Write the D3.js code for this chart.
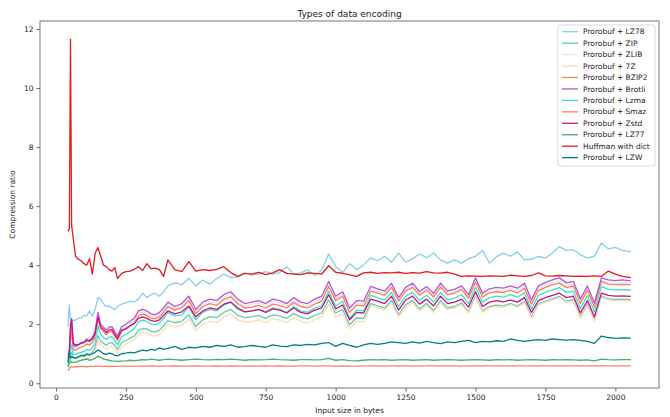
<!DOCTYPE html>
<html>
<head>
<meta charset="utf-8">
<script src="https://cdn.jsdelivr.net/npm/d3@7"></script>
<style>
  body { margin: 0; background: #fff; }
  #chart-area { width: 670px; height: 417px; }
  text { font-family: "DejaVu Sans", sans-serif; fill: #222; }
</style>
</head>
<body>
<div id="chart-area"></div>
<script>
// input sizes (bytes), shared by every series
const inputSizes = [43, 48, 52, 56, 62, 70, 80, 90, 100, 110,
    120, 130, 140, 150, 160, 170, 180, 190, 200, 210,
    220, 235, 250, 265, 280, 295, 310, 325, 340, 355, 370, 385,
    400, 425, 450, 475, 500, 525, 550, 575, 600, 625,
    650, 675, 700, 725, 750, 775, 800, 825, 850, 875,
    900, 925, 950, 975, 1000, 1025, 1050, 1075, 1100, 1125,
    1150, 1175, 1200, 1225, 1250, 1275, 1300, 1325, 1350, 1375,
    1400, 1425, 1450, 1475, 1500, 1525, 1550, 1575, 1600, 1625,
    1650, 1675, 1700, 1725, 1750, 1775, 1800, 1825, 1850, 1875,
    1900, 1925, 1950, 1975, 2000, 2025, 2055];

const lz78 = [1.92, 2.66, 2.15, 2.15, 2.12, 2.15, 2.2, 2.22, 2.3, 2.28,
    2.45, 2.28, 2.5, 2.9, 2.85, 2.7, 2.6, 2.62, 2.55, 2.5,
    2.6, 2.68, 2.72, 2.78, 2.75, 2.85, 3.05, 2.9, 3.0, 3.05, 2.95, 3.1,
    3.3, 3.4, 3.34, 3.56, 3.3, 3.5, 3.36, 3.55, 3.7, 3.58,
    3.6, 3.73, 3.67, 3.7, 3.78, 3.7, 3.75, 3.95, 3.7, 3.74,
    3.84, 3.65, 3.84, 4.38, 3.95, 3.75, 4.05, 3.85, 4.0, 4.25,
    4.15, 4.3, 4.1, 4.41, 4.1, 4.22, 4.38, 4.25, 4.41, 4.18,
    4.07, 4.18, 4.07, 4.22, 4.3, 4.5, 4.07, 4.29, 4.41, 4.3,
    4.45, 4.18, 4.2, 4.3, 4.24, 4.41, 4.63, 4.5, 4.52, 4.35,
    4.25, 4.3, 4.75, 4.55, 4.6, 4.5, 4.45];

const zip = [0.6, 0.7, 0.95, 1.05, 0.85, 0.84, 0.88, 0.92, 0.95, 1.0,
    0.98, 1.05, 1.2, 1.62, 1.42, 1.35, 1.28, 1.36, 1.38, 1.28,
    1.15, 1.38, 1.45, 1.52, 1.6, 1.8, 1.85, 1.84, 1.76, 1.74, 1.8, 1.94,
    2.12, 2.05, 2.1, 2.32, 1.92, 2.15, 2.26, 2.22, 2.4, 2.5,
    2.3, 2.22, 2.25, 2.3, 2.2, 2.32, 2.28, 2.2, 2.36, 2.24,
    2.18, 2.3, 2.38, 2.82, 2.38, 2.5, 1.98, 2.22, 2.2, 2.7,
    2.62, 2.55, 2.8, 2.32, 2.66, 2.8, 2.52, 2.7, 2.46, 2.8,
    2.55, 2.6, 2.72, 2.42, 2.95, 2.45, 2.6, 2.65, 2.62, 2.7,
    2.62, 2.76, 2.25, 2.68, 2.78, 2.86, 2.94, 2.78, 2.82, 2.25,
    2.68, 2.15, 2.95, 2.86, 2.84, 2.85, 2.83];

const zlib = [0.9, 1.05, 1.6, 2.05, 1.25, 1.2, 1.25, 1.32, 1.35, 1.44,
    1.4, 1.48, 1.68, 2.3, 1.93, 1.83, 1.73, 1.83, 1.85, 1.68,
    1.53, 1.85, 1.92, 2.02, 2.12, 2.37, 2.42, 2.37, 2.27, 2.24, 2.32, 2.47,
    2.67, 2.52, 2.62, 2.87, 2.42, 2.67, 2.77, 2.72, 2.92, 3.02,
    2.77, 2.62, 2.67, 2.72, 2.62, 2.77, 2.72, 2.62, 2.82, 2.67,
    2.62, 2.77, 2.87, 3.37, 2.87, 3.02, 2.47, 2.72, 2.7, 3.2,
    3.12, 3.04, 3.31, 2.82, 3.17, 3.31, 3.02, 3.2, 2.97, 3.31,
    3.04, 3.1, 3.22, 2.92, 3.49, 2.97, 3.12, 3.17, 3.14, 3.22,
    3.14, 3.31, 2.75, 3.22, 3.34, 3.42, 3.49, 3.32, 3.37, 2.77,
    3.22, 2.64, 3.49, 3.42, 3.4, 3.42, 3.39];

const sevenZ = [0.45, 0.55, 0.78, 0.88, 0.72, 0.7, 0.74, 0.78, 0.8, 0.85,
    0.84, 0.9, 1.05, 1.45, 1.28, 1.22, 1.15, 1.22, 1.25, 1.15,
    1.02, 1.25, 1.32, 1.4, 1.48, 1.68, 1.72, 1.7, 1.62, 1.6, 1.66, 1.8,
    1.98, 1.9, 1.95, 2.18, 1.78, 2.0, 2.1, 2.06, 2.25, 2.35,
    2.15, 2.08, 2.1, 2.15, 2.05, 2.18, 2.14, 2.05, 2.22, 2.1,
    2.04, 2.16, 2.24, 2.68, 2.24, 2.36, 1.85, 2.1, 2.08, 2.62,
    2.55, 2.48, 2.72, 2.25, 2.58, 2.72, 2.45, 2.62, 2.4, 2.72,
    2.5, 2.55, 2.66, 2.38, 2.9, 2.4, 2.56, 2.6, 2.58, 2.66,
    2.58, 2.72, 2.2, 2.65, 2.75, 2.82, 2.9, 2.74, 2.78, 2.2,
    2.64, 2.1, 2.92, 2.82, 2.8, 2.81, 2.8];

const bzip2 = [0.75, 0.95, 1.45, 1.8, 1.15, 1.12, 1.18, 1.22, 1.25, 1.33,
    1.3, 1.38, 1.58, 2.2, 1.85, 1.75, 1.65, 1.74, 1.76, 1.6,
    1.45, 1.76, 1.84, 1.94, 2.04, 2.28, 2.34, 2.3, 2.2, 2.18, 2.25, 2.4,
    2.6, 2.48, 2.56, 2.8, 2.36, 2.6, 2.7, 2.64, 2.84, 2.93,
    2.7, 2.55, 2.58, 2.64, 2.55, 2.68, 2.64, 2.55, 2.74, 2.6,
    2.55, 2.68, 2.78, 3.28, 2.8, 2.95, 2.4, 2.65, 2.62, 3.12,
    3.05, 2.98, 3.25, 2.78, 3.12, 3.25, 2.98, 3.15, 2.92, 3.26,
    3.0, 3.05, 3.18, 2.88, 3.42, 2.92, 3.06, 3.1, 3.08, 3.15,
    3.06, 3.22, 2.68, 3.14, 3.25, 3.34, 3.4, 3.24, 3.3, 2.7,
    3.15, 2.58, 3.45, 3.36, 3.34, 3.35, 3.33];

const brotli = [0.95, 1.15, 1.8, 2.2, 1.3, 1.25, 1.3, 1.38, 1.4, 1.5,
    1.45, 1.55, 1.75, 2.4, 2.0, 1.9, 1.8, 1.9, 1.92, 1.75,
    1.6, 1.92, 2.0, 2.1, 2.2, 2.45, 2.5, 2.45, 2.35, 2.32, 2.4, 2.55,
    2.75, 2.6, 2.7, 2.95, 2.5, 2.75, 2.85, 2.8, 3.0, 3.1,
    2.85, 2.7, 2.75, 2.8, 2.7, 2.85, 2.8, 2.7, 2.9, 2.75,
    2.7, 2.85, 2.95, 3.45, 2.95, 3.1, 2.55, 2.8, 2.78, 3.28,
    3.2, 3.12, 3.39, 2.9, 3.25, 3.39, 3.1, 3.28, 3.05, 3.39,
    3.12, 3.18, 3.3, 3.0, 3.57, 3.05, 3.2, 3.25, 3.22, 3.3,
    3.22, 3.39, 2.83, 3.3, 3.42, 3.5, 3.57, 3.4, 3.45, 2.85,
    3.3, 2.72, 3.57, 3.5, 3.48, 3.5, 3.47];

const lzma = [0.65, 0.8, 1.1, 1.3, 1.0, 0.98, 1.02, 1.05, 1.08, 1.15,
    1.12, 1.2, 1.38, 1.95, 1.65, 1.55, 1.48, 1.56, 1.58, 1.45,
    1.3, 1.58, 1.66, 1.75, 1.85, 2.08, 2.14, 2.1, 2.0, 1.98, 2.05, 2.2,
    2.4, 2.28, 2.32, 2.58, 2.15, 2.4, 2.5, 2.45, 2.65, 2.75,
    2.5, 2.42, 2.45, 2.5, 2.42, 2.55, 2.5, 2.4, 2.6, 2.45,
    2.4, 2.55, 2.62, 3.12, 2.62, 2.78, 2.2, 2.48, 2.45, 2.98,
    2.9, 2.82, 3.08, 2.6, 2.95, 3.08, 2.8, 2.98, 2.75, 3.08,
    2.82, 2.88, 3.0, 2.7, 3.25, 2.75, 2.9, 2.95, 2.92, 3.0,
    2.92, 3.06, 2.52, 2.98, 3.08, 3.16, 3.24, 3.08, 3.12, 2.52,
    2.98, 2.42, 3.28, 3.18, 3.16, 3.17, 3.16];

const smaz = [0.42, 0.5, 0.55, 0.56, 0.55, 0.56, 0.56, 0.57, 0.57, 0.56,
    0.57, 0.57, 0.58, 0.58, 0.57, 0.57, 0.58, 0.57, 0.58, 0.57,
    0.57, 0.58, 0.58, 0.58, 0.57, 0.58, 0.58, 0.58, 0.59, 0.58, 0.58, 0.58,
    0.58, 0.59, 0.58, 0.58, 0.59, 0.58, 0.58, 0.59, 0.58, 0.59,
    0.58, 0.58, 0.59, 0.58, 0.59, 0.58, 0.59, 0.58, 0.58, 0.59,
    0.59, 0.58, 0.59, 0.59, 0.58, 0.59, 0.58, 0.58, 0.59, 0.59,
    0.59, 0.58, 0.59, 0.59, 0.59, 0.58, 0.59, 0.59, 0.59, 0.59,
    0.59, 0.59, 0.58, 0.59, 0.59, 0.59, 0.59, 0.59, 0.59, 0.59,
    0.59, 0.59, 0.59, 0.59, 0.59, 0.59, 0.59, 0.59, 0.59, 0.59,
    0.59, 0.59, 0.59, 0.59, 0.59, 0.59, 0.59];

const zstd = [0.85, 1.0, 2.0, 2.15, 1.35, 1.3, 1.32, 1.35, 1.38, 1.45,
    1.42, 1.5, 1.68, 2.25, 1.9, 1.82, 1.72, 1.8, 1.82, 1.65,
    1.52, 1.8, 1.85, 1.95, 2.02, 2.2, 2.25, 2.2, 2.12, 2.1, 2.15, 2.3,
    2.45, 2.35, 2.42, 2.62, 2.25, 2.45, 2.55, 2.5, 2.68, 2.75,
    2.55, 2.42, 2.45, 2.5, 2.4, 2.52, 2.48, 2.38, 2.55, 2.4,
    2.35, 2.48, 2.55, 3.0, 2.52, 2.65, 2.15, 2.4, 2.38, 2.85,
    2.78, 2.7, 2.95, 2.48, 2.82, 2.95, 2.68, 2.85, 2.62, 2.95,
    2.7, 2.75, 2.85, 2.58, 3.1, 2.6, 2.75, 2.8, 2.76, 2.82,
    2.75, 2.9, 2.4, 2.8, 2.9, 2.98, 3.05, 2.9, 2.95, 2.38,
    2.8, 2.25, 3.05, 2.98, 2.95, 2.96, 2.94];

const lz77 = [0.55, 0.7, 0.75, 0.72, 0.7, 0.72, 0.75, 0.78, 0.8, 0.82,
    0.78, 0.8, 0.85, 0.92, 0.88, 0.82, 0.8, 0.78, 0.76, 0.75,
    0.74, 0.75, 0.76, 0.78, 0.77, 0.78, 0.8, 0.79, 0.82, 0.8, 0.78, 0.8,
    0.82, 0.8, 0.78, 0.8, 0.82, 0.8, 0.79, 0.81, 0.8, 0.82,
    0.8, 0.78, 0.8, 0.79, 0.8, 0.82, 0.8, 0.79, 0.78, 0.8,
    0.8, 0.79, 0.8, 0.84, 0.78, 0.8, 0.77, 0.76, 0.78, 0.8,
    0.79, 0.8, 0.78, 0.79, 0.8, 0.78, 0.79, 0.8, 0.78, 0.79,
    0.8, 0.79, 0.78, 0.79, 0.8, 0.79, 0.78, 0.8, 0.79, 0.8,
    0.78, 0.79, 0.8, 0.79, 0.78, 0.8, 0.79, 0.8, 0.79, 0.78,
    0.79, 0.76, 0.82, 0.8, 0.79, 0.8, 0.8];

const huffman = [5.15, 5.25, 11.65, 5.35, 4.9, 4.3, 4.2, 4.15, 4.05, 4.0,
    4.22, 3.7, 4.4, 4.6, 4.3, 4.0, 3.95, 3.85, 3.8, 3.92,
    3.55, 3.72, 3.78, 3.8, 3.86, 3.95, 3.82, 4.05, 3.88, 3.9, 3.85, 3.62,
    4.18, 3.85, 3.78, 4.12, 3.8, 3.85, 3.82, 3.86, 3.95, 3.75,
    3.62, 3.72, 3.7, 3.76, 3.68, 3.74, 3.85, 3.72, 3.7, 3.68,
    3.74, 3.72, 3.7, 3.98, 3.76, 3.72, 3.67, 3.62, 3.74, 3.76,
    3.72, 3.75, 3.74, 3.76, 3.72, 3.75, 3.73, 3.78, 3.74, 3.73,
    3.76, 3.7, 3.62, 3.64, 3.63, 3.62, 3.64, 3.63, 3.62, 3.66,
    3.64, 3.62, 3.65, 3.74, 3.64, 3.63, 3.65, 3.64, 3.62, 3.63,
    3.62, 3.64, 3.62, 3.8, 3.7, 3.62, 3.58];

const lzw = [0.7, 1.05, 0.85, 0.9, 0.88, 0.85, 0.9, 0.95, 0.92, 0.98,
    0.95, 1.0, 1.05, 1.12, 1.08, 1.0, 0.98, 1.02, 1.0, 0.95,
    0.93, 1.0, 1.02, 1.05, 1.03, 1.08, 1.12, 1.1, 1.15, 1.12, 1.2, 1.15,
    1.18, 1.25, 1.15, 1.22, 1.2, 1.25, 1.22, 1.28, 1.25, 1.3,
    1.22, 1.24, 1.28, 1.25, 1.22, 1.3, 1.26, 1.24, 1.3, 1.28,
    1.32, 1.3, 1.35, 1.38, 1.25, 1.35, 1.28, 1.22, 1.3, 1.35,
    1.32, 1.35, 1.4, 1.38, 1.35, 1.4, 1.36, 1.42, 1.38, 1.34,
    1.4, 1.38, 1.42, 1.45, 1.38, 1.42, 1.4, 1.44, 1.42, 1.5,
    1.45, 1.42, 1.45, 1.48, 1.45, 1.5, 1.48, 1.46, 1.48, 1.45,
    1.42, 1.35, 1.6, 1.55, 1.52, 1.54, 1.53];

const seriesNames = ["Prorobuf + LZ78", "Prorobuf + ZIP", "Prorobuf + ZLIB", "Prorobuf + 7Z",
    "Prorobuf + BZIP2", "Prorobuf + Brotli", "Prorobuf + Lzma", "Prorobuf + Smaz",
    "Prorobuf + Zstd", "Prorobuf + LZ77", "Huffman with dict", "Prorobuf + LZW"];
const seriesValues = [lz78, zip, zlib, sevenZ, bzip2, brotli, lzma, smaz, zstd, lz77, huffman, lzw];
const seriesColors = ["skyblue", "mediumaquamarine", "lavender", "peachpuff",
    "coral", "mediumorchid", "turquoise", "salmon",
    "mediumvioletred", "mediumseagreen", "#e41a1c", "teal"];

const xTicks = [0, 250, 500, 750, 1000, 1250, 1500, 1750, 2000];
const yTicks = [0, 2, 4, 6, 8, 10, 12];

class LineVis {
    constructor(parentElement) {
        this.parentElement = parentElement;
        this.series = seriesNames.map((name, i) => ({
            name: name,
            color: seriesColors[i],
            points: inputSizes.map((x, j) => ({ x: x, y: seriesValues[i][j] }))
        }));
        this.initVis();
    }

    initVis() {
        let vis = this;

        // axes box in pixels
        vis.box = { left: 40, right: 659, top: 21, bottom: 388 };

        vis.svg = d3.select(`#${vis.parentElement}`).append("svg")
            .attr("width", 670)
            .attr("height", 417);

        vis.x = d3.scaleLinear().domain([-57, 2156]).range([vis.box.left, vis.box.right]);
        vis.y = d3.scaleLinear().domain([-0.16, 12.27]).range([vis.box.bottom, vis.box.top]);

        vis.svg.append("defs").append("clipPath").attr("id", "plot-clip")
            .append("rect")
            .attr("x", vis.box.left).attr("y", vis.box.top)
            .attr("width", vis.box.right - vis.box.left)
            .attr("height", vis.box.bottom - vis.box.top);

        vis.updateVis();
    }

    updateVis() {
        let vis = this;

        let line = d3.line()
            .x(d => vis.x(d.x))
            .y(d => vis.y(d.y));

        vis.svg.append("g")
            .attr("clip-path", "url(#plot-clip)")
            .selectAll(".series")
            .data(vis.series)
            .enter().append("path")
            .attr("class", "series")
            .attr("d", d => line(d.points))
            .attr("fill", "none")
            .attr("stroke", d => d.color)
            .attr("stroke-width", 1.3)
            .attr("stroke-linejoin", "round");

        // axes
        let xAxis = d3.axisBottom(vis.x).tickValues(xTicks).tickFormat(d3.format("d"))
            .tickSize(3.5).tickPadding(3);
        let yAxis = d3.axisLeft(vis.y).tickValues(yTicks).tickFormat(d3.format("d"))
            .tickSize(3.5).tickPadding(3);

        let gx = vis.svg.append("g")
            .attr("transform", `translate(0, ${vis.box.bottom})`)
            .call(xAxis);
        let gy = vis.svg.append("g")
            .attr("transform", `translate(${vis.box.left}, 0)`)
            .call(yAxis);

        [gx, gy].forEach(g => {
            g.select(".domain").remove();
            g.selectAll(".tick line").attr("stroke", "#444").attr("stroke-width", 0.8);
            g.selectAll(".tick text")
                .style("font-family", "DejaVu Sans")
                .style("font-size", "7.5px")
                .attr("fill", "#222");
        });

        // frame
        vis.svg.append("rect")
            .attr("x", vis.box.left).attr("y", vis.box.top)
            .attr("width", vis.box.right - vis.box.left)
            .attr("height", vis.box.bottom - vis.box.top)
            .attr("fill", "none")
            .attr("stroke", "#555")
            .attr("stroke-width", 0.8);

        // labels
        let midX = (vis.box.left + vis.box.right) / 2;
        vis.svg.append("text")
            .attr("x", midX).attr("y", 16.5)
            .attr("text-anchor", "middle")
            .style("font-size", "9px")
            .text("Types of data encoding");

        vis.svg.append("text")
            .attr("x", midX).attr("y", 413)
            .attr("text-anchor", "middle")
            .style("font-size", "7.5px")
            .text("Input size in bytes");

        vis.svg.append("text")
            .attr("transform", `translate(15, ${(vis.box.top + vis.box.bottom) / 2}) rotate(-90)`)
            .attr("text-anchor", "middle")
            .style("font-size", "7.5px")
            .text("Compression ratio");

        vis.drawLegend();
    }

    drawLegend() {
        let vis = this;

        let legend = vis.svg.append("g").attr("class", "legend");

        legend.append("rect")
            .attr("x", 558).attr("y", 25)
            .attr("width", 97).attr("height", 141)
            .attr("rx", 2)
            .attr("fill", "white")
            .attr("fill-opacity", 0.8)
            .attr("stroke", "#d0d0d0")
            .attr("stroke-width", 0.8);

        let rows = legend.selectAll(".legend-row")
            .data(vis.series)
            .enter().append("g")
            .attr("class", "legend-row")
            .attr("transform", (d, i) => `translate(0, ${31.7 + i * 11.45})`);

        rows.append("line")
            .attr("x1", 562).attr("x2", 578)
            .attr("stroke", d => d.color)
            .attr("stroke-width", 1.3);

        rows.append("text")
            .attr("x", 583)
            .attr("dy", "0.35em")
            .style("font-size", "7.5px")
            .text(d => d.name);
    }
}

new LineVis("chart-area");
</script>
</body>
</html>
